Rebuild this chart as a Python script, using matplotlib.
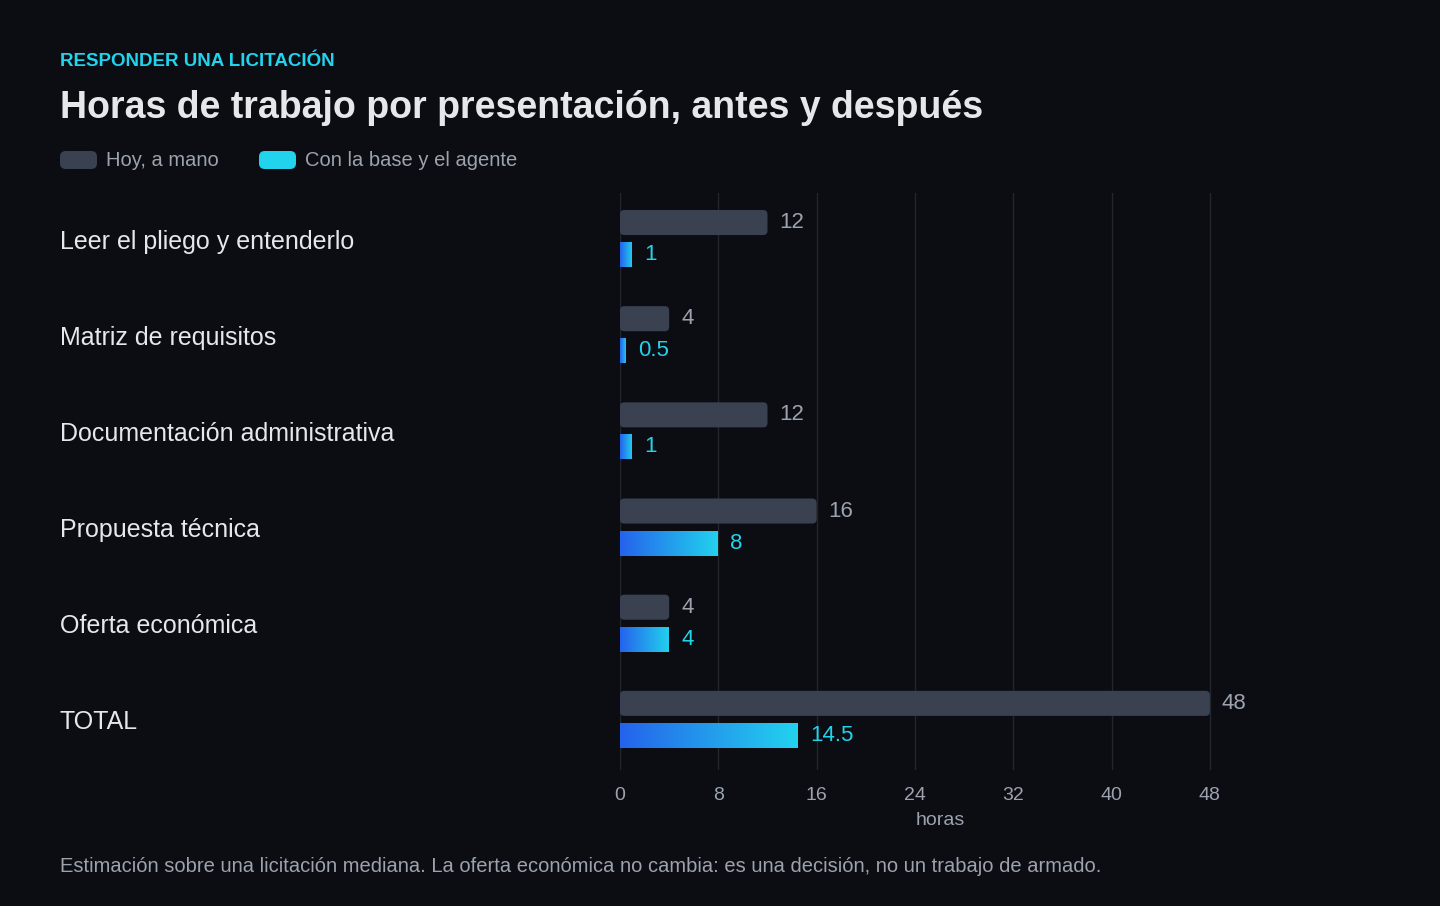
import numpy as np
import matplotlib.pyplot as plt
from matplotlib.patches import FancyBboxPatch

categories = ["Leer el pliego y entenderlo", "Matriz de requisitos",
              "Documentación administrativa", "Propuesta técnica",
              "Oferta económica", "TOTAL"]
hoy = [12, 4, 12, 16, 4, 48]
con_agente = [1, 0.5, 1, 8, 4, 14.5]
x_ticks = [0, 8, 16, 24, 32, 40, 48]

BG = "#0b0d12"
DARK = "#3a4150"
GRID = "#22262e"
TXT = "#e5e7eb"
MUTED = "#9ca3af"
CYAN = "#22d3ee"
BLUE = "#2563eb"

plt.rcParams['font.family'] = ['Liberation Sans', 'DejaVu Sans']

fig = plt.figure(figsize=(14.4, 9.06), dpi=100, facecolor=BG)
ax = fig.add_axes([620 / 1440, 1 - 770 / 906, 640 / 1440, 577 / 906])
ax.set_facecolor(BG)
ax.set_xlim(0, 640 / 12.29)
ax.set_ylim(len(categories) - 0.5, -0.5)

px_x = 12.29
bar_h = 25 / 96
aspect = px_x / 96
grad = np.linspace(0, 1, 256).reshape(1, -1)
cmap = plt.matplotlib.colors.LinearSegmentedColormap.from_list("g", [BLUE, CYAN])

for i, (a, b) in enumerate(zip(hoy, con_agente)):
    yd = i - 0.193
    yb = i + 0.14
    p = FancyBboxPatch((0, yd - bar_h / 2), a, bar_h,
                       boxstyle="round,pad=0,rounding_size=0.35",
                       mutation_aspect=aspect, fc=DARK, ec="none", zorder=3)
    ax.add_patch(p)
    ax.text(a + 12 / px_x, yd, f"{a:g}", color=MUTED, fontsize=16,
            va="center", ha="left", zorder=4)
    pb = FancyBboxPatch((0, yb - bar_h / 2), b, bar_h,
                        boxstyle="square,pad=0", fc="none", ec="none", zorder=3)
    ax.add_patch(pb)
    im = ax.imshow(grad, cmap=cmap, aspect="auto", zorder=3,
                   extent=(0, b, yb + bar_h / 2, yb - bar_h / 2))
    im.set_clip_path(pb)
    ax.text(b + 12 / px_x, yb, f"{b:g}", color=CYAN, fontsize=16,
            va="center", ha="left", zorder=4)
    fig.text(60 / 1440, 1 - (i * 96 + 242) / 906, categories[i], color=TXT,
             fontsize=18, va="center", ha="left")

ax.set_xlim(0, 640 / 12.29)
ax.set_ylim(len(categories) - 0.5, -0.5)
ax.set_xticks(x_ticks)
ax.set_yticks([])
ax.grid(axis="x", color=GRID, lw=1, zorder=0)
for s in ax.spines.values():
    s.set_visible(False)
ax.tick_params(axis="x", length=0, colors=MUTED, labelsize=14, pad=12)
ax.set_xlabel("horas", color=MUTED, fontsize=14, labelpad=6)

fig.text(60 / 1440, 1 - 61 / 906, "RESPONDER UNA LICITACIÓN", color=CYAN,
         fontsize=13.5, fontweight="bold", va="center")
fig.text(60 / 1440, 1 - 108 / 906, "Horas de trabajo por presentación, antes y después",
         color=TXT, fontsize=27, fontweight="bold", va="center")

for x0, col, lab in [(60, DARK, "Hoy, a mano"), (259, CYAN, "Con la base y el agente")]:
    fig.patches.append(FancyBboxPatch((x0 / 1440, 1 - 169 / 906), 37 / 1440, 18 / 906,
                                      boxstyle="round,pad=0,rounding_size=0.004",
                                      mutation_aspect=1440 / 906,
                                      transform=fig.transFigure, fc=col, ec="none"))
    fig.text((x0 + 46) / 1440, 1 - 160 / 906, lab, color=MUTED, fontsize=14.5, va="center")

fig.text(60 / 1440, 1 - 866 / 906,
         "Estimación sobre una licitación mediana. La oferta económica no cambia: "
         "es una decisión, no un trabajo de armado.",
         color=MUTED, fontsize=14.5, va="center")

fig.savefig("out.png", dpi=100, facecolor=BG)
